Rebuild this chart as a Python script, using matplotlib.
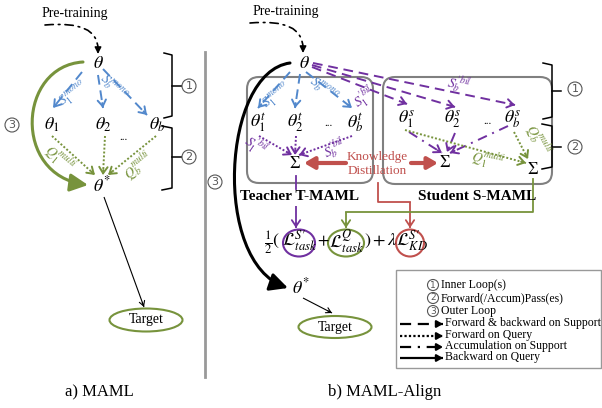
import numpy as np
import matplotlib
matplotlib.use("Agg")
import matplotlib.pyplot as plt
from matplotlib.patches import Circle, Ellipse, FancyBboxPatch, Rectangle, FancyArrowPatch
from matplotlib.path import Path

plt.rcParams['font.family'] = ['Liberation Serif', 'DejaVu Serif']
plt.rcParams['mathtext.fontset'] = 'stix'

GREEN = '#77933C'
BLUE = '#5288CC'
PURPLE = '#7030A0'
RED = '#C0504D'
GRAY = '#808080'

# text content
panel_titles = ['a) MAML', 'b) MAML-Align']
maml_thetas = [r'$\theta_1$', r'$\theta_2$', r'$\theta_b$']
teacher_thetas = [r'$\theta_1^t$', r'$\theta_2^t$', r'$\theta_b^t$']
student_thetas = [r'$\theta_1^s$', r'$\theta_2^s$', r'$\theta_b^s$']
legend_circles = ['Inner Loop(s)', 'Forward(/Accum)Pass(es)', 'Outer Loop']
legend_lines = ['Forward & backward on Support', 'Forward on Query',
                'Accumulation on Support', 'Backward on Query']

DASH = (0, (5, 3))
DOT = (0, (1, 1))
DASHDOT = (0, (5, 3, 1, 3))
LFS = 10  # small edge labels

fig = plt.figure(figsize=(6.02, 4.08), dpi=100)
ax = fig.add_axes([0, 0, 1, 1])
ax.set_xlim(0, 602)
ax.set_ylim(408, 0)
ax.axis('off')


def arrow(x0, y0, x1, y1, color, ls='-', lw=1.4, head='->', hl=0.45, hw=0.3):
    ax.plot([x0, x1], [y0, y1], color=color, lw=lw, linestyle=ls,
            solid_capstyle='butt')
    d = np.hypot(x1 - x0, y1 - y0)
    ux, uy = (x1 - x0) / d, (y1 - y0) / d
    ax.annotate('', xy=(x1, y1), xytext=(x1 - ux * 5, y1 - uy * 5),
                arrowprops=dict(arrowstyle=f'{head},head_length={hl},head_width={hw}',
                                color=color, lw=lw, shrinkA=0, shrinkB=0))


def num_circle(x, y, n, r=7, fs=8):
    ax.add_patch(Circle((x, y), r, fill=False, ec='#555555', lw=0.8))
    ax.text(x, y, n, ha='center', va='center', fontsize=fs, color='#555555',
            family='DejaVu Sans')


def bracket(x0, x1, ytop, ybot, ymid, tick):
    ax.plot([x0, x1, x1, x0], [ytop, ytop + 2, ybot - 2, ybot], color='k', lw=1.1)
    ax.plot([x1, x1 + tick], [ymid, ymid], color='k', lw=1.1)


def bezier_arrow(pts, color, lw, hl, hw):
    path = Path(pts, [Path.MOVETO, Path.CURVE4, Path.CURVE4, Path.CURVE4])
    ax.add_patch(FancyArrowPatch(path=path,
                                 arrowstyle=f'-|>,head_length={hl},head_width={hw}',
                                 mutation_scale=12, color=color, lw=lw))


def pretrain_arrow(x0, y0, x1, y1):
    ax.annotate('', xy=(x1, y1 - 5), xytext=(x0, y0),
                arrowprops=dict(arrowstyle='-', color='k', lw=1.2, linestyle=DASHDOT,
                                connectionstyle='angle3,angleA=5,angleB=90',
                                shrinkA=0, shrinkB=0))
    ax.annotate('', xy=(x1, y1), xytext=(x1, y1 - 6),
                arrowprops=dict(arrowstyle='-|>,head_length=0.4,head_width=0.2',
                                color='k', lw=1, shrinkA=0, shrinkB=0))


# ---------------- a) MAML ----------------
ax.text(75, 13, 'Pre-training', ha='center', va='center', fontsize=10)
pretrain_arrow(45, 25, 98, 54)

ax.text(98, 63, r'$\theta$', ha='center', va='center', fontsize=13)
for (x, lab) in zip([52, 103, 157], maml_thetas):
    ax.text(x, 125, lab, ha='center', va='center', fontsize=13)
ax.text(123, 137, '...', ha='center', va='center', fontsize=8)
ax.text(102, 185, r'$\theta^{*}$', ha='center', va='center', fontsize=13)

arrow(82, 72, 53, 108, BLUE, DASH)
arrow(98, 75, 103, 108, BLUE, DASH)
arrow(103, 69, 147, 115, BLUE, DASH)
ax.text(74, 95, r'$S_1^{mono}$', color=BLUE, fontsize=LFS, rotation=38,
        ha='center', va='center')
ax.text(113, 88, r'$S_b^{mono}$', color=BLUE, fontsize=LFS, rotation=-42,
        ha='center', va='center')

arrow(52, 136, 95, 175, GREEN, DOT)
arrow(105, 136, 103, 175, GREEN, DOT)
arrow(156, 136, 108, 175, GREEN, DOT)
ax.text(59, 159, r'$Q_1^{multi}$', color=GREEN, fontsize=LFS, rotation=-40,
        ha='center', va='center')
ax.text(139, 166, r'$Q_b^{multi}$', color=GREEN, fontsize=LFS, rotation=40,
        ha='center', va='center')

bezier_arrow([(83, 62), (18, 66), (12, 175), (88, 185)], GREEN, 2.2, 0.9, 0.45)
num_circle(12, 125, '3')

bracket(164, 172, 53, 118, 86, 9)
num_circle(189, 86, '1')
bracket(162, 172, 126, 190, 157, 9)
num_circle(189, 157, '2')

arrow(104, 197, 144, 307, 'k', '-', lw=0.8, hl=0.35, hw=0.2)
ax.add_patch(Ellipse((146, 320), 73, 23, fill=False, ec=GREEN, lw=1.5))
ax.text(146, 320, 'Target', ha='center', va='center', fontsize=10)

ax.plot([205, 205], [52, 377], color='#999999', lw=2)
ax.text(99, 392, panel_titles[0], ha='center', va='center', fontsize=12)

# ---------------- b) MAML-Align ----------------
ax.text(286, 11, 'Pre-training', ha='center', va='center', fontsize=10)
pretrain_arrow(250, 23, 303, 53)
ax.text(304, 63, r'$\theta$', ha='center', va='center', fontsize=13)

ax.add_patch(FancyBboxPatch((247, 77), 126, 106,
                            boxstyle='round,pad=0,rounding_size=12',
                            fill=False, ec=GRAY, lw=1.5))
ax.add_patch(FancyBboxPatch((383, 77), 169, 107,
                            boxstyle='round,pad=0,rounding_size=12',
                            fill=False, ec=GRAY, lw=1.5))

for (x, lab) in zip([258, 295, 355], teacher_thetas):
    ax.text(x, 123, lab, ha='center', va='center', fontsize=13)
ax.text(328, 124, '...', ha='center', va='center', fontsize=8)
for (x, lab) in zip([407, 453, 513], student_thetas):
    ax.text(x, 119, lab, ha='center', va='center', fontsize=13)
ax.text(487, 121, '...', ha='center', va='center', fontsize=8)

ax.text(295, 164, r'$\Sigma$', ha='center', va='center', fontsize=12)
ax.text(445, 163, r'$\Sigma$', ha='center', va='center', fontsize=12)
ax.text(533, 170, r'$\Sigma$', ha='center', va='center', fontsize=12)

# teacher support arrows
arrow(290, 72, 258, 108, BLUE, DASH)
arrow(300, 74, 295, 108, BLUE, DASH)
arrow(306, 72, 352, 108, BLUE, DASH)
ax.text(277, 96, r'$S_1^{mono}$', color=BLUE, fontsize=LFS, rotation=40,
        ha='center', va='center')
ax.text(323, 89, r'$S_b^{mono}$', color=BLUE, fontsize=LFS, rotation=-35,
        ha='center', va='center')

# bilingual support to student
arrow(312, 67, 407, 104, PURPLE, DASH)
arrow(312, 65, 455, 107, PURPLE, DASH)
arrow(313, 63, 515, 105, PURPLE, DASH)
ax.text(365, 98, r"$S_1^{\prime bil}$", color=PURPLE, fontsize=LFS, rotation=35,
        ha='center', va='center')
ax.text(459, 85, r"$S_b^{\prime bil}$", color=PURPLE, fontsize=LFS, rotation=-12,
        ha='center', va='center')

# teacher accumulation
arrow(259, 136, 292, 155, PURPLE, DOT)
arrow(296, 136, 295, 155, PURPLE, DOT)
arrow(352, 136, 299, 155, PURPLE, DOT)
ax.text(255, 147, r"$S_1^{\prime bil}$", color=PURPLE, fontsize=LFS, rotation=-35,
        ha='center', va='center')
ax.text(335, 149, r"$S_b^{\prime bil}$", color=PURPLE, fontsize=LFS, rotation=25,
        ha='center', va='center')

# student accumulation / query
arrow(409, 132, 442, 153, PURPLE, DASHDOT)
arrow(455, 133, 447, 152, PURPLE, DASHDOT)
arrow(508, 126, 450, 153, PURPLE, DASHDOT)
arrow(405, 130, 526, 163, GREEN, DOT)
arrow(514, 132, 528, 159, GREEN, DOT)
ax.text(488, 161, r'$Q_1^{multi}$', color=GREEN, fontsize=LFS, rotation=-12,
        ha='center', va='center')
ax.text(538, 140, r'$Q_b^{multi}$', color=GREEN, fontsize=LFS, rotation=-60,
        ha='center', va='center')

# knowledge distillation
ax.text(377, 157, 'Knowledge', color=RED, ha='center', va='center', fontsize=9.5)
ax.text(377, 171, 'Distillation', color=RED, ha='center', va='center', fontsize=9.5)
ax.annotate('', xy=(304, 163), xytext=(346, 163),
            arrowprops=dict(arrowstyle='-|>,head_length=0.6,head_width=0.35',
                            color=RED, lw=3, shrinkA=0, shrinkB=0))
ax.annotate('', xy=(438, 163), xytext=(411, 163),
            arrowprops=dict(arrowstyle='-|>,head_length=0.6,head_width=0.35',
                            color=RED, lw=3, shrinkA=0, shrinkB=0))

# labels under boxes
ax.text(299, 197, 'Teacher T-MAML', ha='center', va='center', fontsize=11,
        fontweight='bold')
ax.text(477, 197, 'Student S-MAML', ha='center', va='center', fontsize=11,
        fontweight='bold')

# connections to loss
ax.plot([296, 296], [176, 189], color=PURPLE, lw=1.3)
arrow(296, 206, 296, 228, PURPLE, '-', lw=1.3)
ax.plot([378, 378, 410], [183, 202, 202], color=RED, lw=1.3)
arrow(410, 202, 410, 228, RED, '-', lw=1.3)
ax.plot([533, 533, 346], [179, 212, 212], color=GREEN, lw=1.3)
arrow(346, 212, 346, 228, GREEN, '-', lw=1.3)

# loss formula
ax.text(272, 243, r'$\frac{1}{2}($', ha='center', va='center', fontsize=13)
ax.text(300, 241, r"$\mathcal{L}_{task}^{S\prime}$", ha='center', va='center',
        fontsize=13)
ax.text(323, 241, r'$+$', ha='center', va='center', fontsize=12)
ax.text(347, 241, r'$\mathcal{L}_{task}^{Q}$', ha='center', va='center',
        fontsize=13)
ax.text(381, 241, r'$)+\lambda$', ha='center', va='center', fontsize=13)
ax.text(412, 241, r"$\mathcal{L}_{KD}^{S\prime}$", ha='center', va='center',
        fontsize=13)
ax.add_patch(Ellipse((299, 243), 32, 27, fill=False, ec=PURPLE, lw=1.5))
ax.add_patch(Ellipse((346, 243), 36, 27, fill=False, ec=GREEN, lw=1.5))
ax.add_patch(Ellipse((410, 243), 28, 27, fill=False, ec=RED, lw=1.5))

# outer loop
bezier_arrow([(290, 63), (222, 72), (212, 262), (288, 288)], 'k', 2.2, 0.9, 0.45)
num_circle(215, 182, '3')
ax.text(301, 287, r'$\theta^{*}$', ha='center', va='center', fontsize=13)

arrow(303, 298, 332, 313, 'k', '-', lw=0.8, hl=0.35, hw=0.2)
ax.add_patch(Ellipse((335, 327), 73, 22, fill=False, ec=GREEN, lw=1.5))
ax.text(335, 327, 'Target', ha='center', va='center', fontsize=10)

bracket(543, 552, 63, 119, 91, 9)
num_circle(575, 89, '1')
bracket(542, 552, 124, 169, 147, 9)
num_circle(575, 147, '2')

# legend
ax.add_patch(Rectangle((396, 270), 205, 98, fill=False, ec='#999999', lw=1))
for y, lab, n in zip([285, 298, 311], legend_circles, ['1', '2', '3']):
    num_circle(433, y, n, r=5.5, fs=6.5)
    ax.text(441, y, lab, ha='left', va='center', fontsize=8.5)
for y, lab, ls in zip([324, 336, 347, 358], legend_lines, [DASH, DOT, DASHDOT, '-']):
    arrow(400, y, 443, y, 'k', ls, lw=1.6, head='-|>', hl=0.35, hw=0.2)
    ax.text(445, y - 1, lab, ha='left', va='center', fontsize=8.5)

ax.text(385, 392, panel_titles[1], ha='center', va='center', fontsize=12)

fig.savefig('out.png', dpi=100)
